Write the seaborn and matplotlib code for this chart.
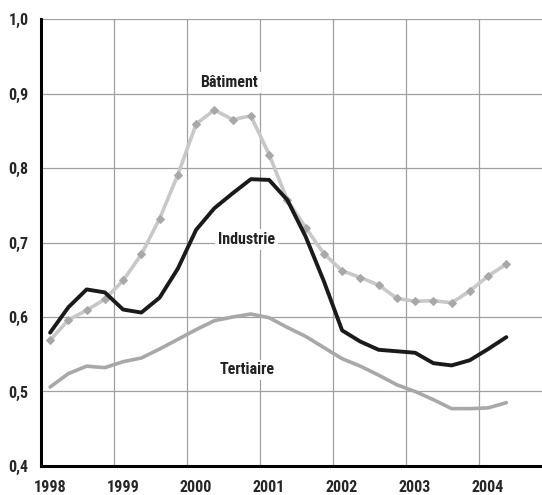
import numpy as np
import pandas as pd
import matplotlib
matplotlib.use("Agg")
import matplotlib.pyplot as plt
from matplotlib.ticker import FuncFormatter
import seaborn as sns

# quarterly series, 1998 Q1 -> 2004 Q2
years = list(range(1998, 2005))
quarters = [y + (q - 0.5) / 4 for y in years for q in range(1, 5)][:26]

batiment = [0.569, 0.596, 0.609, 0.624, 0.649, 0.684, 0.732, 0.791, 0.859, 0.878,
            0.865, 0.870, 0.818, 0.757, 0.720, 0.685, 0.662, 0.653, 0.643, 0.625,
            0.621, 0.622, 0.619, 0.635, 0.655, 0.671]
industrie = [0.579, 0.613, 0.637, 0.633, 0.610, 0.606, 0.626, 0.665, 0.717, 0.746,
             0.766, 0.785, 0.784, 0.757, 0.708, 0.648, 0.582, 0.567, 0.556, 0.554,
             0.552, 0.538, 0.535, 0.542, 0.557, 0.573]
tertiaire = [0.506, 0.524, 0.534, 0.532, 0.540, 0.545, 0.557, 0.570, 0.583, 0.595,
             0.600, 0.604, 0.599, 0.586, 0.574, 0.559, 0.544, 0.534, 0.522, 0.509,
             0.500, 0.489, 0.477, 0.477, 0.478, 0.485]

series = ["Bâtiment", "Industrie", "Tertiaire"]
colors = {"Bâtiment": "#c8c8c8", "Industrie": "#1a1a1a", "Tertiaire": "#a8a8a8"}

df = pd.DataFrame({
    "date": quarters * 3,
    "value": batiment + industrie + tertiaire,
    "serie": [s for s in series for _ in quarters],
})

sns.set_style("white")
plt.rcParams["font.family"] = ["Roboto Condensed", "Liberation Sans", "DejaVu Sans"]
plt.rcParams["font.weight"] = "bold"

fig = plt.figure(figsize=(5.42, 4.95), dpi=100)
ax = fig.add_axes([0.0756, 0.0586, 0.9244, 0.903])

sns.lineplot(data=df[df.serie == "Tertiaire"], x="date", y="value", color=colors["Tertiaire"],
             lw=2.6, ax=ax, zorder=3)
sns.lineplot(data=df[df.serie == "Bâtiment"], x="date", y="value", color=colors["Bâtiment"],
             lw=2.6, marker="D", markersize=4, markerfacecolor="#a8a8a8",
             markeredgecolor="#a8a8a8", ax=ax, zorder=4)
sns.lineplot(data=df[df.serie == "Industrie"], x="date", y="value", color=colors["Industrie"],
             lw=2.8, ax=ax, zorder=5)

ax.set_xlim(1998, 2004.863)
ax.set_ylim(0.4, 1.0)
ax.set_xticks(years)
ax.set_xticklabels([])
ax.set_yticks(np.arange(0.4, 1.01, 0.1))
ax.yaxis.set_major_formatter(FuncFormatter(lambda v, p: f"{v:.1f}".replace(".", ",")))
ax.grid(True, color="#a0a0a0", lw=0.9, zorder=0)
ax.set_axisbelow(True)
ax.set_xlabel("")
ax.set_ylabel("")

for s in ["top", "right"]:
    ax.spines[s].set_visible(False)
for s in ["left", "bottom"]:
    ax.spines[s].set_color("black")
    ax.spines[s].set_linewidth(2.2)

ax.tick_params(axis="x", direction="in", length=4, width=1.2, color="black")
ax.tick_params(axis="y", direction="in", length=4, width=1.2, color="black",
               labelsize=11.5, pad=9)

# year labels sit a little right of the gridline
for y in years:
    ax.text(y + 0.125, -0.048, str(y), transform=ax.get_xaxis_transform(),
            ha="center", va="center", fontsize=11.5, fontweight="bold")

labels = {"Bâtiment": (2000.575, 0.9145), "Industrie": (2000.815, 0.704),
          "Tertiaire": (2000.82, 0.529)}
for name, (x, y) in labels.items():
    ax.text(x, y, name, ha="center", va="center", fontsize=11.5, fontweight="bold",
            color="#222222", zorder=6,
            bbox=dict(facecolor="white", edgecolor="none", pad=2))

fig.savefig("out.png", dpi=100)
